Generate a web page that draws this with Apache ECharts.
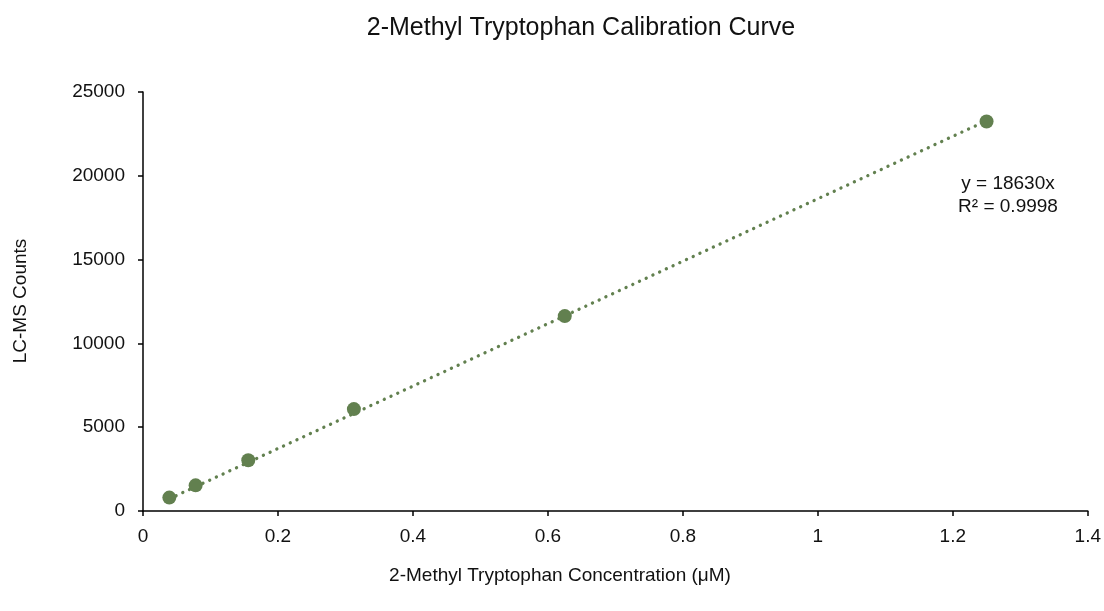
<!DOCTYPE html>
<html>
<head>
<meta charset="utf-8">
<script src="https://cdn.jsdelivr.net/npm/echarts@6/dist/echarts.min.js"></script>
<style>html,body{margin:0;padding:0;background:#fff}#c{width:1104px;height:611px}</style>
</head>
<body>
<div id="c"></div>
<script>
const concentrations = [0.039, 0.078, 0.156, 0.3125, 0.625, 1.25];
const counts = [800, 1530, 3030, 6080, 11630, 23240];
const trendX = [0.039, 1.25];
const trendY = [727, 23288];
const xTicks = [0, 0.2, 0.4, 0.6, 0.8, 1, 1.2, 1.4];
const yTicks = [0, 5000, 10000, 15000, 20000, 25000];
const titleText = '2-Methyl Tryptophan Calibration Curve';
const xName = '2-Methyl Tryptophan Concentration (μM)';
const yName = 'LC-MS Counts';
const eqLines = ['y = 18630x', 'R² = 0.9998'];

const green = '#62804F';
const ink = '#111';
const font = 'Liberation Sans, Arial, sans-serif';
const chart = echarts.init(document.getElementById('c'), null, {renderer: 'canvas'});
chart.setOption({
  animation: false,
  backgroundColor: '#fff',
  grid: {left: 143, right: 16, top: 92, bottom: 100},
  xAxis: {
    type: 'value', min: xTicks[0], max: xTicks[xTicks.length-1], interval: 0.2,
    axisLine: {lineStyle: {color: '#000', width: 1.5}},
    axisTick: {show: true, length: 5, inside: false, lineStyle: {color: '#000', width: 1.5}},
    axisLabel: {fontFamily: font, fontSize: 19, color: ink, margin: 16},
    splitLine: {show: false}
  },
  yAxis: {
    type: 'value', min: yTicks[0], max: yTicks[yTicks.length-1], interval: 5000,
    axisLine: {show: true, lineStyle: {color: '#000', width: 1.5}},
    axisTick: {show: true, length: 5, inside: false, lineStyle: {color: '#000', width: 1.5}},
    axisLabel: {fontFamily: font, fontSize: 19, color: ink, margin: 18, formatter: v => String(v)},
    splitLine: {show: false}
  },
  graphic: [
    {type: 'text', x: 581, y: 28, style: {text: titleText, fontFamily: font, fontSize: 25, fill: ink, textAlign: 'center', textVerticalAlign: 'middle'}},
    {type: 'text', x: 560, y: 576, style: {text: xName, fontFamily: font, fontSize: 19, fill: ink, textAlign: 'center', textVerticalAlign: 'middle'}},
    {type: 'text', x: 21, y: 301, rotation: Math.PI/2, style: {text: yName, fontFamily: font, fontSize: 19, fill: ink, textAlign: 'center', textVerticalAlign: 'middle'}},
    {type: 'text', x: 1008, y: 184, style: {text: eqLines[0], fontFamily: font, fontSize: 19, fill: ink, textAlign: 'center', textVerticalAlign: 'middle'}},
    {type: 'text', x: 1008, y: 207, style: {text: eqLines[1], fontFamily: font, fontSize: 19, fill: ink, textAlign: 'center', textVerticalAlign: 'middle'}}
  ],
  series: [
    {
      type: 'line', data: trendX.map((x, i) => [x, trendY[i]]),
      symbol: 'none', silent: true, z: 1,
      lineStyle: {color: green, width: 3.3, type: [0.1, 7.3], cap: 'round'}
    },
    {
      type: 'scatter', data: concentrations.map((x, i) => [x, counts[i]]),
      symbol: 'circle', symbolSize: 14, z: 3,
      itemStyle: {color: green, opacity: 1}
    }
  ]
});
</script>
</body>
</html>
